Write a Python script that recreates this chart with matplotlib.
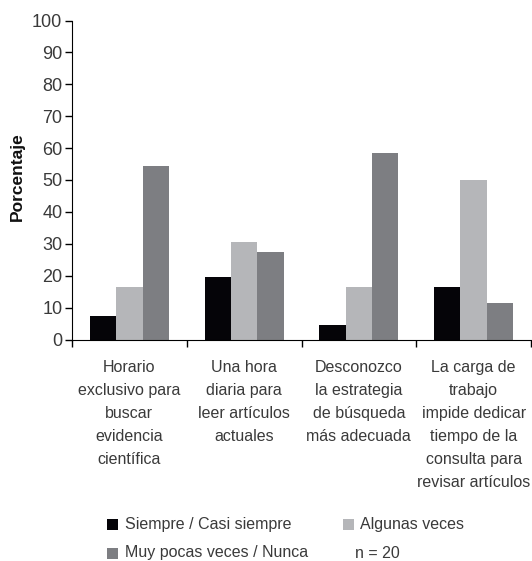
import matplotlib
matplotlib.use("Agg")
import matplotlib.pyplot as plt
import numpy as np
from matplotlib.patches import Rectangle

categories = ["Horario\nexclusivo para\nbuscar\nevidencia\ncientífica",
              "Una hora\ndiaria para\nleer artículos\nactuales",
              "Desconozco\nla estrategia\nde búsqueda\nmás adecuada",
              "La carga de\ntrabajo\nimpide dedicar\ntiempo de la\nconsulta para\nrevisar artículos"]
series_names = ["Siempre / Casi siempre", "Algunas veces", "Muy pocas veces / Nunca"]
siempre = [7.5, 19.5, 4.5, 16.5]
algunas = [16.5, 30.5, 16.5, 50.0]
muy_pocas = [54.5, 27.5, 58.5, 11.5]
yticks = [0, 10, 20, 30, 40, 50, 60, 70, 80, 90, 100]
note = "n = 20"

colors = ["#050408", "#b5b6b9", "#7d7e82"]
txt = "#3a3a3a"
plt.rcParams['font.family'] = ['Liberation Sans', 'DejaVu Sans']

W, H = 532, 561
fig = plt.figure(figsize=(W/100, H/100), dpi=100)
ax = fig.add_axes([72/W, 1-339.5/H, 459/W, (339.5-20.5)/H])

x = np.arange(len(categories))
w = 0.23
for i, (vals, c, name) in enumerate(zip([siempre, algunas, muy_pocas], colors, series_names)):
    ax.bar(x + (i-1)*w, vals, width=w, color=c, label=name, linewidth=0)

ax.set_xlim(-0.5, len(categories)-0.5)
ax.set_ylim(0, 100)
ax.set_yticks(yticks)
ax.set_yticklabels([str(t) for t in yticks], fontsize=13, color=txt)
ax.set_xticks(np.arange(-0.5, len(categories), 1.0))
ax.set_xticklabels([])
ax.set_xticks(x, minor=True)
ax.set_xticklabels(categories, minor=True, fontsize=11.5, color=txt, linespacing=1.66)
ax.tick_params(axis='x', which='minor', length=0, pad=15)
ax.tick_params(axis='x', which='major', length=5, direction='out', width=1)
ax.tick_params(axis='y', length=5, width=1, pad=2)
ax.spines['top'].set_visible(False)
ax.spines['right'].set_visible(False)
ax.set_ylabel("Porcentaje", fontsize=12.5, fontweight='bold', color='#111111')
ax.yaxis.set_label_coords(-0.103, 0.51)

# legend placed by hand
def entry(xsq, y, color, label, xt):
    if color is not None:
        fig.add_artist(Rectangle((xsq/W, 1-(y+5.5)/H), 11/W, 11/H, color=color,
                                 transform=fig.transFigure, linewidth=0))
    fig.text(xt/W, 1-y/H, label, fontsize=11.5, color=txt, va='center', ha='left')

entry(107, 524, colors[0], series_names[0], 125)
entry(343, 524, colors[1], series_names[1], 360)
entry(107, 553, colors[2], series_names[2], 125)
entry(0, 553, None, note, 355)

fig.savefig("out.png", dpi=100)
